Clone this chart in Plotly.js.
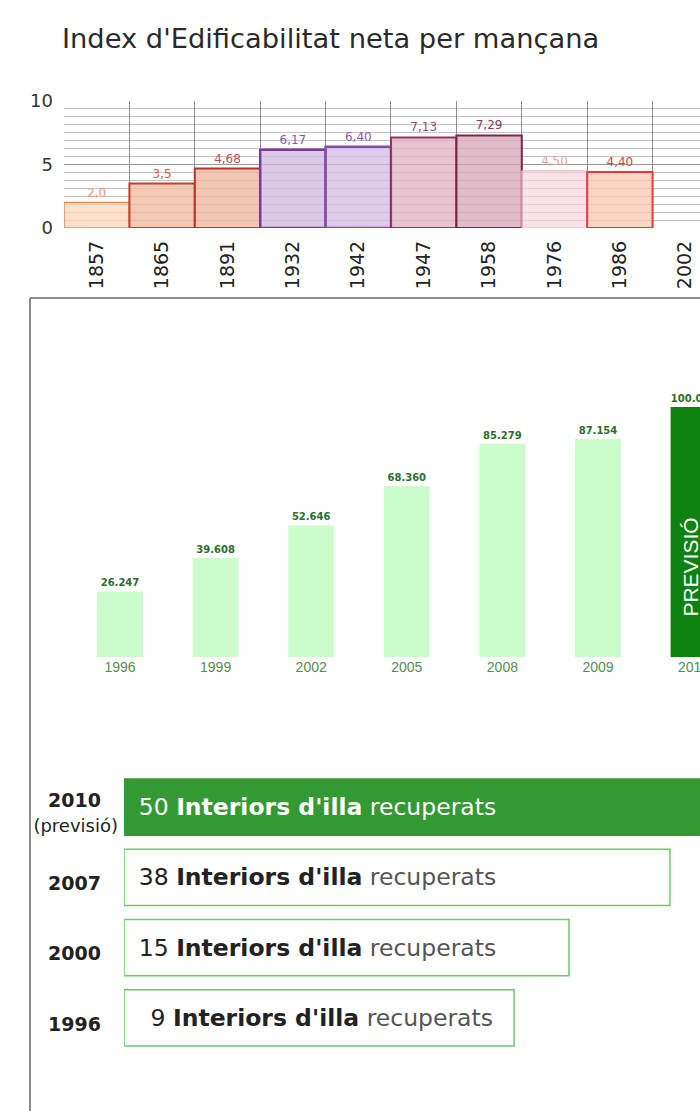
<!DOCTYPE html>
<html>
<head>
<meta charset="utf-8">
<script src="https://cdn.plot.ly/plotly-3.0.1.min.js"></script>
<style>
  html, body { margin: 0; padding: 0; background: #fff; overflow: hidden; }
  #chart { width: 700px; height: 1111px; }
</style>
</head>
<body>
<div id="chart"></div>
<script>
// ---------- DATA ----------
// Top chart: Index d'Edificabilitat neta per mançana
const topYears  = ['1857','1865','1891','1932','1942','1947','1958','1976','1986','2002'];
const topIndex  = [2.0, 3.5, 4.68, 6.17, 6.40, 7.13, 7.29, 4.50, 4.40, null];
const topLabels = ['2,0','3,5','4,68','6,17','6,40','7,13','7,29','4,50','4,40',''];

// Middle chart: evolution (values with dot thousands separator)
const midYears  = ['1996','1999','2002','2005','2008','2009','2010'];
const midValues = [26247, 39608, 52646, 68360, 85279, 87154, 100000];
const forecastYear  = '2010';
const forecastLabel = 'PREVISIÓ';

// Bottom chart: Interiors d'illa recuperats
const botYears      = ['2010','2007','2000','1996'];
const botYearNotes  = ['(previsió)','','',''];
const botCounts     = [50, 38, 15, 9];

// ---------- STYLES ----------
const topFills  = ['rgba(251,214,184,0.75)','rgba(242,184,156,0.75)','rgba(240,180,152,0.75)',
                   'rgba(206,184,226,0.75)','rgba(210,186,228,0.75)','rgba(226,176,192,0.75)',
                   'rgba(216,164,182,0.75)','rgba(248,212,220,0.7)','rgba(249,200,178,0.75)','rgba(0,0,0,0)'];
const topLines  = ['#ee8a4a','#cc3b2e','#b8352e','#7b3a9a','#8a4aa8','#9a3060','#7e2448','#f0b0bc','#e23a3a','#fff'];
const topLineW  = [1.5, 2, 2, 2.5, 2.5, 2, 2, 1, 2, 0];
const topLblCol = ['#e89a6a','#cc5a4a','#c0504a','#8a5aa8','#8a5aa8','#9a4a70','#8a3a5a','#e8a0aa','#e04040','#fff'];

const midColors = midYears.map(y => y === forecastYear ? '#0e820e' : '#ccfccc');

const botFills  = botYears.map((y, i) => i === 0 ? '#339933' : '#ffffff');
const botLines  = botYears.map((y, i) => i === 0 ? '#339933' : '#6cc86c');
const botTxtCol = botYears.map((y, i) => i === 0 ? '#ffffff' : '#222222');
const botRecCol = botYears.map((y, i) => i === 0 ? '#ffffff' : '#555555');

const botText = botCounts.map((n, i) => {
  const num = (n < 10 ? '\u2002' : '') + n;
  return '\u2002' + num + ' <b>Interiors d\'illa</b> <span style="color:' + botRecCol[i] + '">recuperats</span>';
});
// year tick labels: bold year (padded so the note line can centre under it) + optional note
const botTickText = botYears.map((y, i) =>
  '<b>' + y + '\u2007\u2009</b>' +
  (botYearNotes[i] ? '<br><span style="font-size:18px">' + botYearNotes[i] + '</span>' : ''));

const H = 1111, W = 700;
const py = p => 1 - p / H;
const px = p => p / W;

const x3range = [-0.575, 1.7015];
const botBase = botCounts.map(() => Math.pow(10, x3range[0]));
const fIdx = midYears.indexOf(forecastYear);

const FONT = 'DejaVu Sans';

const traces = [
  {
    type: 'bar', x: topYears, y: topIndex, xaxis: 'x', yaxis: 'y', width: 1,
    marker: { color: topFills, line: { color: topLines, width: topLineW } },
    text: topLabels, textposition: 'outside', cliponaxis: false,
    textfont: { family: FONT, size: 12, color: topLblCol },
    hoverinfo: 'skip'
  },
  {
    type: 'bar', x: midYears, y: midValues, xaxis: 'x2', yaxis: 'y2', width: 0.48,
    marker: { color: midColors },
    texttemplate: '%{y:,}', textposition: 'outside', cliponaxis: false,
    textfont: { family: FONT, size: 10, weight: 'bold', color: '#2d6e2d' },
    hoverinfo: 'skip'
  },
  {
    type: 'bar', orientation: 'h', x: botCounts, y: botYears, base: botBase,
    xaxis: 'x3', yaxis: 'y3', width: 0.8,
    marker: { color: botFills, line: { color: botLines, width: 1.5 } },
    text: botText, textposition: 'inside', insidetextanchor: 'start',
    constraintext: 'none', cliponaxis: false,
    textfont: { family: FONT, size: 23.5, color: botTxtCol },
    hoverinfo: 'skip'
  }
];

const layout = {
  width: W, height: H,
  margin: { l: 0, r: 0, t: 0, b: 0 },
  paper_bgcolor: '#ffffff', plot_bgcolor: 'rgba(0,0,0,0)',
  showlegend: false, separators: ',.',
  font: { family: FONT, color: '#333' },
  title: {
    text: "Index d'Edificabilitat neta per mançana",
    x: px(62), xanchor: 'left', y: py(38), yanchor: 'middle',
    font: { family: FONT, size: 27.3, color: '#2a2a2a' }
  },
  xaxis: {
    domain: [px(64), 1], range: [-0.5, 9.225], type: 'category', anchor: 'y',
    tickson: 'boundaries', showgrid: true, gridcolor: '#8f8f8f', gridwidth: 1,
    ticks: '', tickangle: -90, showline: false, zeroline: false, ticklabelstandoff: 8,
    tickfont: { family: FONT, size: 19, color: '#222' }, fixedrange: true
  },
  yaxis: {
    domain: [py(228), py(101)], range: [0, 10], anchor: 'x',
    tick0: 0, dtick: 5, showgrid: true, gridcolor: '#9a9a9a', gridwidth: 1,
    minor: { dtick: 0.625, showgrid: true, gridcolor: '#c4c4c4', gridwidth: 1 },
    zeroline: false, showline: false, ticks: '', ticklabelstandoff: 10,
    tickfont: { family: FONT, size: 18, color: '#333' }, fixedrange: true
  },
  xaxis2: {
    domain: [px(30), 1], range: [-0.9414, 6.067], type: 'category', anchor: 'y2',
    showgrid: false, zeroline: false, showline: false, ticks: '',
    tickfont: { family: 'Liberation Sans', size: 14, color: '#4f8f4f' }, fixedrange: true
  },
  yaxis2: {
    domain: [py(657), py(330)], range: [0, 130800], anchor: 'x2',
    showgrid: false, zeroline: false, showline: false, showticklabels: false, ticks: '', fixedrange: true
  },
  xaxis3: {
    type: 'log', domain: [px(124), 1], range: x3range, anchor: 'y3',
    visible: false, fixedrange: true
  },
  yaxis3: {
    type: 'category', domain: [py(1053), py(772)], range: [3.5, -0.5], anchor: 'x3',
    tickvals: botYears, ticktext: botTickText,
    showgrid: false, zeroline: false, showline: false, ticks: '', ticklabelstandoff: 5,
    ticklabelshift: -6,
    tickfont: { family: FONT, size: 19, color: '#222' }, fixedrange: true
  },
  annotations: [{
    xref: 'x2', yref: 'y2', x: fIdx, y: midValues[fIdx] * 0.36, xshift: -4,
    text: forecastLabel, textangle: -90, showarrow: false,
    font: { family: 'Liberation Sans', size: 21, color: '#ffffff' }
  }],
  shapes: [
    { type: 'line', xref: 'paper', yref: 'paper', x0: px(30), x1: px(30), y0: 0, y1: py(298),
      line: { color: '#666', width: 1.5 } },
    { type: 'line', xref: 'paper', yref: 'paper', x0: px(30), x1: 1, y0: py(298), y1: py(298),
      line: { color: '#666', width: 1.5 } }
  ]
};

Plotly.newPlot('chart', traces, layout, { displayModeBar: false, responsive: false });
</script>
</body>
</html>
